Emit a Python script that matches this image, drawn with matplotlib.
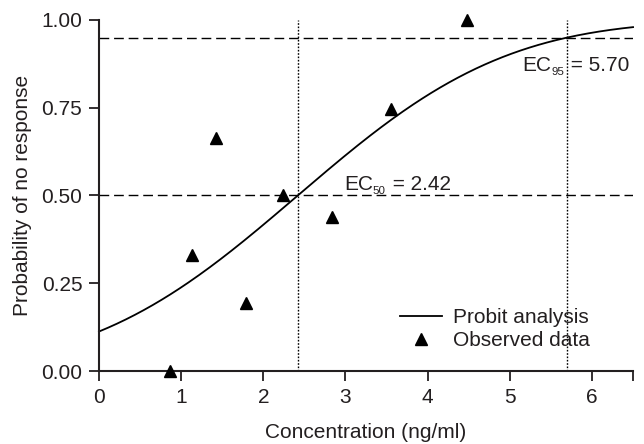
import math
import numpy as np
import matplotlib
matplotlib.use("Agg")
import matplotlib.pyplot as plt
from matplotlib.ticker import FixedLocator
from matplotlib.transforms import offset_copy

plt.rcParams['font.family'] = ['Liberation Sans', 'DejaVu Sans']

# Observed data
conc = [0.87, 1.13, 1.42, 1.79, 2.24, 2.83, 3.56, 4.48]
prob = [0.0, 0.33, 0.665, 0.193, 0.50, 0.44, 0.747, 1.0]

# Probit model parameters
ec50 = 2.42
ec95 = 5.70
xticks = [0, 1, 2, 3, 4, 5, 6]
yticks = [0.0, 0.25, 0.5, 0.75, 1.0]
ytick_labels = ["0.00", "0.25", "0.50", "0.75", "1.00"]

sigma = (ec95 - ec50) / 1.6449
xc = np.linspace(0, 6.5, 300)
yc = np.array([0.5 * (1 + math.erf((v - ec50) / (sigma * math.sqrt(2)))) for v in xc])

FS = 15
TXT = '#231f20'

fig = plt.figure(figsize=(6.44, 4.44), dpi=100)
ax = fig.add_axes([0.1537, 0.1644, 0.983 - 0.1537, 0.955 - 0.1644])

ax.axhline(0.5, color='black', lw=1.0, ls=(0, (7, 3.5)))
ax.axhline(0.95, color='black', lw=1.0, ls=(0, (7, 3.5)))
ax.axvline(ec50, color='black', lw=1.0, ls=(0, (1.2, 1.2)))
ax.axvline(ec95, color='black', lw=1.0, ls=(0, (1.2, 1.2)))

ax.plot(xc, yc, color='black', lw=1.3, label='Probit analysis', clip_on=False)
ax.plot(conc, prob, ls='none', marker='^', color='black', ms=8,
        label='Observed data', clip_on=False, zorder=5)

ax.set_xlim(0, 6.5)
ax.set_ylim(0, 1.0)
ax.set_xticks(xticks)
ax.set_yticks(yticks)
ax.set_yticklabels(ytick_labels)
ax.xaxis.set_minor_locator(FixedLocator([6.5]))
ax.tick_params(which='both', direction='out', length=7, width=1.3, labelsize=FS,
               pad=5, color=TXT, labelcolor=TXT)
for s in ['top', 'right']:
    ax.spines[s].set_visible(False)
for s in ['left', 'bottom']:
    ax.spines[s].set_linewidth(1.5)
    ax.spines[s].set_color(TXT)

ax.set_xlabel('Concentration (ng/ml)', fontsize=FS, labelpad=12, color=TXT)
ax.set_ylabel('Probability of no response', fontsize=FS, labelpad=7, color=TXT)


def ec_label(x, y, sub, rest):
    t1 = ax.text(x, y, 'EC', fontsize=FS, ha='left', va='baseline', color=TXT)
    fig.canvas.draw()
    r = fig.canvas.get_renderer()
    w = t1.get_window_extent(r).width
    tr = offset_copy(ax.transData, fig=fig, x=w * 72 / fig.dpi, y=-3, units='points')
    t2 = ax.text(x, y, sub, fontsize=FS * 0.55, ha='left', va='baseline',
                 transform=tr, color=TXT)
    w2 = t2.get_window_extent(r).width
    tr2 = offset_copy(ax.transData, fig=fig, x=(w + w2 + 1) * 72 / fig.dpi, y=0, units='points')
    ax.text(x, y, rest, fontsize=FS, ha='left', va='baseline', transform=tr2, color=TXT)


ec_label(2.98, 0.515, '50', ' = 2.42')
ec_label(5.15, 0.855, '95', ' = 5.70')

leg = ax.legend(loc='lower right', frameon=False, fontsize=FS,
                bbox_to_anchor=(0.935, 0.035), handlelength=2.0,
                handletextpad=0.55, labelspacing=0.2, borderaxespad=0)
for t in leg.get_texts():
    t.set_color(TXT)

fig.savefig('out.png', dpi=100)
